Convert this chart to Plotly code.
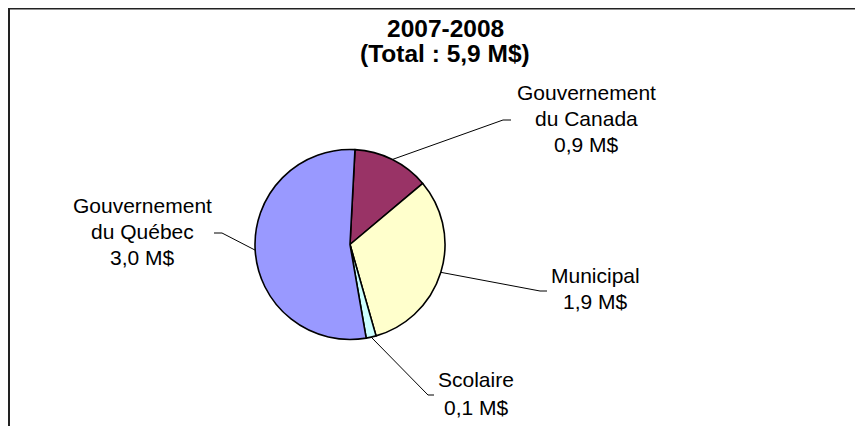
import math
import plotly.graph_objects as go

# ---- data ----
categories = ["Gouvernement du Canada", "Municipal", "Scolaire", "Gouvernement du Québec"]
# slice sizes (M$)
slice_values = [0.77, 1.87, 0.10, 3.16]
# values printed in the data labels
label_values = ["0,9 M$", "1,9 M$", "0,1 M$", "3,0 M$"]
label_names = [["Gouvernement", "du Canada"], ["Municipal"], ["Scolaire"],
               ["Gouvernement", "du Québec"]]
title_lines = ["2007-2008", "(Total : 5,9 M$)"]

# ---- styles / layout (pixel coordinates of the figure) ----
colors = ["#993366", "#FFFFCC", "#CCFFFF", "#9999FF"]
W, H = 863, 426
CX, CY, R = 342.0, 236.5, 95.0
ROTATION = 3.0
FONT = "Liberation Sans, Arial, sans-serif"
LABEL_FS = 21
TITLE_FS = 24.5

# label centre x and baseline of each text line
label_x = [578, 587, 468, 134]
label_baselines = [[92, 118, 144], [275, 301], [379, 407], [205, 231, 257]]
leader_end = [((495, 112), (503, 112)),
              ((532, 283), (539, 283)),
              ((420, 387), (426, 387)),
              ((214, 225), (206, 225))]
title_x = 437
title_baselines = [28.7, 53.7]

fig = go.Figure()

fig.add_trace(go.Pie(
    values=slice_values, labels=categories, sort=False,
    direction="clockwise", rotation=ROTATION,
    textinfo="none", hoverinfo="label+value",
    marker=dict(colors=colors, line=dict(color="black", width=1.6)),
    domain=dict(x=[(CX - R) / W, (CX + R) / W],
                y=[(H - CY - R) / H, (H - CY + R) / H]),
    showlegend=False,
))

def add_line_text(x, baseline, text, size, bold=False):
    fig.add_annotation(
        x=x, y=baseline - 0.35 * size, xref="x", yref="y",
        text=f"<b>{text}</b>" if bold else text, showarrow=False,
        font=dict(family=FONT, size=size, color="black"),
        xanchor="center", yanchor="middle")

# leader lines from mid-angle of each slice, plus labels
total = sum(slice_values)
cum = 0.0
for i, v in enumerate(slice_values):
    mid = ROTATION + (cum + v / 2) / total * 360.0
    cum += v
    a = math.radians(mid)
    ex, ey = CX + R * math.sin(a), CY - R * math.cos(a)
    (px, py), (qx, qy) = leader_end[i]
    fig.add_trace(go.Scatter(
        x=[ex, px, qx], y=[ey, py, qy], mode="lines",
        line=dict(color="black", width=1), hoverinfo="skip",
        showlegend=False, xaxis="x", yaxis="y"))
    lines = label_names[i] + [label_values[i]]
    for t, b in zip(lines, label_baselines[i]):
        add_line_text(label_x[i], b, t, LABEL_FS)

for t, b in zip(title_lines, title_baselines):
    add_line_text(title_x, b, t, TITLE_FS, bold=True)

# chart frame (left and top edges visible in the window)
fig.add_shape(type="path", path=f"M 1 {H} L 1 0.5 L {W} 0.5",
              xref="x", yref="y", line=dict(color="#222222", width=2))

fig.update_layout(
    width=W, height=H,
    margin=dict(l=0, r=0, t=0, b=0),
    paper_bgcolor="white", plot_bgcolor="rgba(0,0,0,0)",
    xaxis=dict(range=[0, W], visible=False, domain=[0, 1], fixedrange=True),
    yaxis=dict(range=[H, 0], visible=False, domain=[0, 1], fixedrange=True),
)

fig.write_html("out.html")
